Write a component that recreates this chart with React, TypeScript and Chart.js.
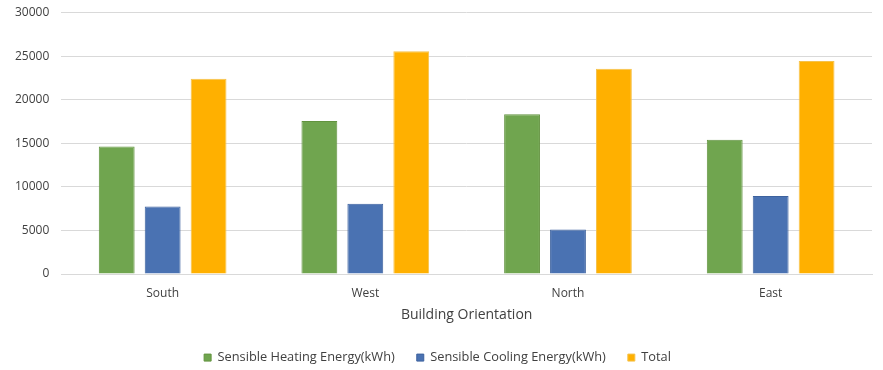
import React, { useEffect, useRef } from "react";
import { Chart, registerables } from "chart.js";

Chart.register(...registerables);

const categories = ["South", "West", "North", "East"];
const heating = [14630, 17560, 18330, 15400];
const cooling = [7750, 8060, 5100, 8940];
const total = [22400, 25560, 23560, 24440];
const yTicks = [0, 5000, 10000, 15000, 20000, 25000, 30000];

const FONT = "'Open Sans', 'Noto Sans', sans-serif";

export default function App() {
  const ref = useRef<HTMLCanvasElement | null>(null);
  useEffect(() => {
    if (!ref.current) return;
    const chart = new Chart(ref.current, {
      type: "bar",
      data: {
        labels: categories,
        datasets: [
          { label: "Sensible Heating Energy(kWh)", data: heating, backgroundColor: "#70a54f", borderColor: "#62933f", borderWidth: 1 },
          { label: "Sensible Cooling Energy(kWh)", data: cooling, backgroundColor: "#4a72b2", borderColor: "#3d629e", borderWidth: 1 },
          { label: "Total", data: total, backgroundColor: "#ffb000", borderColor: "#f5c24a", borderWidth: 1 },
        ],
      },
      options: {
        responsive: false,
        animation: false,
        layout: { padding: { left: 3, right: 11, top: 0, bottom: -4 } },
        datasets: { bar: { categoryPercentage: 0.68, barPercentage: 0.78 } },
        plugins: {
          tooltip: { enabled: false },
          legend: {
            position: "bottom",
            labels: {
              boxWidth: 7,
              boxHeight: 7,
              padding: 22,
              color: "#404040",
              font: { family: FONT, size: 12.8 },
            },
          },
        },
        scales: {
          x: {
            grid: { display: false },
            border: { color: "#d9d9d9" },
            ticks: { color: "#404040", font: { family: FONT, size: 12 }, padding: 4 },
            title: { display: true, text: "Building Orientation", color: "#404040", font: { family: FONT, size: 14 }, padding: { top: 2, bottom: 6 } },
          },
          y: {
            min: 0,
            max: 30000,
            afterBuildTicks: (axis: any) => { axis.ticks = yTicks.map((v) => ({ value: v })); },
            afterFit: (s: any) => { s.paddingTop = 12.5; s.paddingBottom = 7; },
            grid: { color: "#d9d9d9", drawTicks: false },
            border: { display: false },
            ticks: { color: "#404040", font: { family: FONT, size: 12 }, padding: 12, callback: (v: any) => String(v) },
          },
        },
      },
    } as any);
    return () => chart.destroy();
  }, []);
  return (
    <div style={{ position: "fixed", left: 0, top: 0, width: 883, height: 370, background: "#fff" }}>
      <canvas ref={ref} width={883} height={370} />
    </div>
  );
}
